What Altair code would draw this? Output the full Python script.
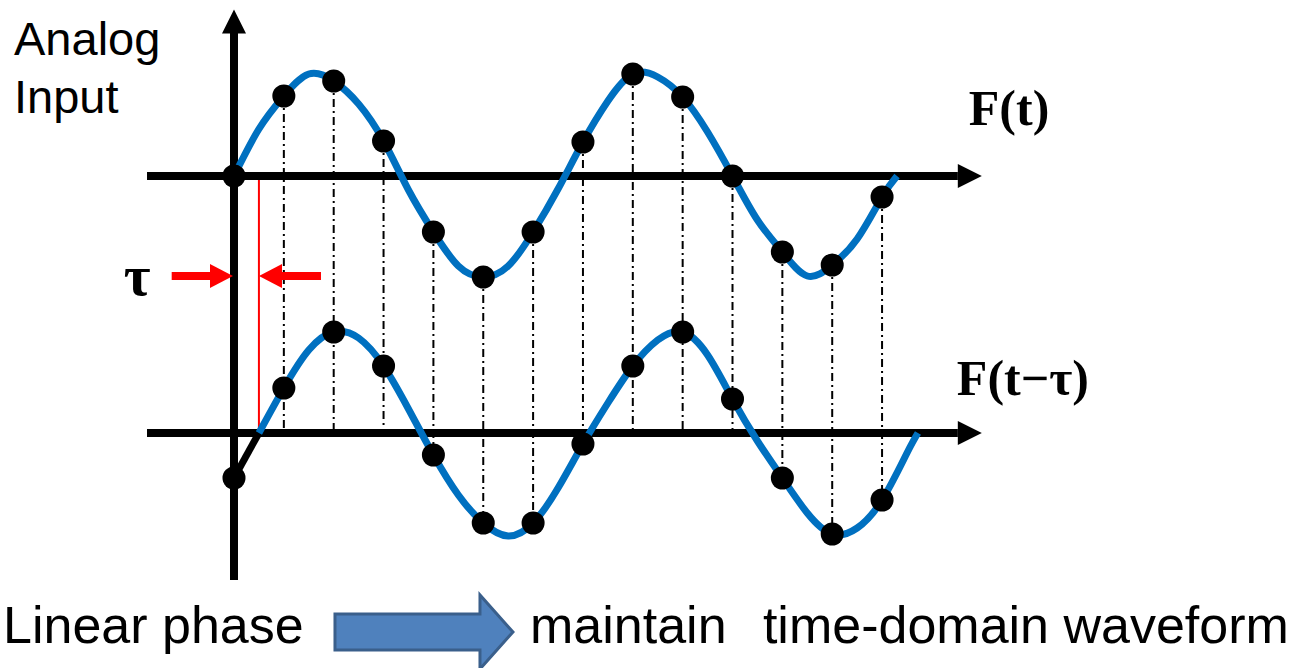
import altair as alt
import pandas as pd

# ---- sampled signal (one x unit = one sampling interval, one y unit = 100 px) ----
sample_t = list(range(14))
top_samples = [0.0, 0.80, 0.95, 0.35, -0.56, -1.01, -0.56, 0.34, 1.02, 0.79, 0.0, -0.76, -0.89, -0.21]
bottom_samples = [-0.45, 0.45, 1.01, 0.67, -0.22, -0.90, -0.90, -0.11, 0.67, 1.01, 0.34, -0.45, -1.01, -0.67]

# continuous waveform F(t)
top_curve_t = [0, 0.5, 1, 1.5, 2, 2.5, 3, 3.5, 4, 4.5, 5, 5.5, 6, 6.5, 7, 7.5, 8, 8.5, 9, 9.5,
               10, 10.5, 11, 11.5, 12, 12.5, 13, 13.3]
top_curve_v = [0.0, 0.47, 0.80, 1.02, 0.95, 0.72, 0.35, -0.14, -0.56, -0.90, -1.01, -0.90, -0.56,
               -0.13, 0.34, 0.75, 1.02, 0.99, 0.79, 0.44, 0.0, -0.44, -0.76, -1.0, -0.89, -0.63,
               -0.21, 0.0]

# delayed waveform F(t - tau)
bottom_curve_t = [0.5, 1, 1.5, 2, 2.5, 3, 3.5, 4, 4.5, 5, 5.5, 6, 6.5, 7, 7.5, 8, 8.5, 9, 9.5,
                  10, 10.5, 11, 11.5, 12, 12.5, 13, 13.5, 13.72]
bottom_curve_v = [0.0, 0.45, 0.83, 1.01, 0.95, 0.67, 0.24, -0.22, -0.62, -0.90, -1.03, -0.90,
                  -0.55, -0.11, 0.30, 0.67, 0.93, 1.01, 0.78, 0.34, -0.08, -0.45, -0.80, -1.01,
                  -0.95, -0.67, -0.20, 0.0]

TAU = 0.5            # delay, in sampling intervals
BASE_LOW = -2.57     # baseline of the delayed trace

# ---- coordinate frame ----
XS = alt.Scale(domain=[-4.694, 21.444], nice=False, zero=False)
YS = alt.Scale(domain=[-4.92, 1.76], nice=False, zero=False)


def X(f):
    return alt.X(f"{f}:Q", scale=XS, axis=None)


def Y(f):
    return alt.Y(f"{f}:Q", scale=YS, axis=None)


samples = pd.DataFrame({"t": sample_t, "top": top_samples, "bot": bottom_samples})
samples["bot_y"] = samples["bot"] + BASE_LOW
samples["drop_to"] = samples["bot_y"].clip(upper=BASE_LOW)

top_curve = pd.DataFrame({"t": top_curve_t, "v": top_curve_v})
bot_curve = pd.DataFrame({"t": bottom_curve_t, "v": bottom_curve_v})
bot_curve["v"] = bot_curve["v"] + BASE_LOW

BLUE = "#0070C0"
RED = "#FF0000"

# dash-dot sampling lines
drops = alt.Chart(samples[samples.t > 0]).mark_rule(
    color="black", strokeWidth=2, strokeDash=[8, 4, 2, 4]
).encode(x=X("t"), y=Y("top"), y2="drop_to:Q")

# delay marker
tau_line = alt.Chart(pd.DataFrame({"x": [TAU], "y": [0.0], "y2": [BASE_LOW]})).mark_rule(
    color=RED, strokeWidth=2
).encode(x=X("x"), y=Y("y"), y2="y2:Q")

# axes
h_axes = alt.Chart(pd.DataFrame({"y": [0.0, BASE_LOW], "x": [-1.745, -1.745], "x2": [14.52, 14.52]})).mark_rule(
    color="black", strokeWidth=8
).encode(y=Y("y"), x=X("x"), x2="x2:Q")
v_axis = alt.Chart(pd.DataFrame({"x": [0.0], "y": [-4.04], "y2": [1.43]})).mark_rule(
    color="black", strokeWidth=8
).encode(x=X("x"), y=Y("y"), y2="y2:Q")

HEAD_RIGHT = "M -12 -12 L 12 0 L -12 12 Z"
HEAD_UP = "M -12 12 L 0 -12 L 12 12 Z"
RED_RIGHT = "M -11.5 -12 L 11.5 0 L -11.5 12 Z"
RED_LEFT = "M 11.5 -12 L -11.5 0 L 11.5 12 Z"
BIG_ARROW = "M -89 -18 L 56 -18 L 56 -37 L 89 0 L 56 37 L 56 18 L -89 18 Z"

h_heads = alt.Chart(pd.DataFrame({"x": [14.76, 14.76], "y": [0.0, BASE_LOW]})).mark_point(
    shape=HEAD_RIGHT, size=4, filled=True, color="black", opacity=1
).encode(x=X("x"), y=Y("y"))
v_head = alt.Chart(pd.DataFrame({"x": [0.0], "y": [1.545]})).mark_point(
    shape=HEAD_UP, size=4, filled=True, color="black", opacity=1
).encode(x=X("x"), y=Y("y"))

# tau arrows
red_shafts = alt.Chart(pd.DataFrame({"x": [-1.25, 0.92], "x2": [-0.44, 1.745], "y": [-1.0, -1.0]})).mark_rule(
    color=RED, strokeWidth=8
).encode(x=X("x"), x2="x2:Q", y=Y("y"))
red_head_r = alt.Chart(pd.DataFrame({"x": [-0.251], "y": [-1.0]})).mark_point(
    shape=RED_RIGHT, size=4, filled=True, color=RED, opacity=1
).encode(x=X("x"), y=Y("y"))
red_head_l = alt.Chart(pd.DataFrame({"x": [0.732], "y": [-1.0]})).mark_point(
    shape=RED_LEFT, size=4, filled=True, color=RED, opacity=1
).encode(x=X("x"), y=Y("y"))

# leading segment of the delayed trace (before the delay elapses)
lead = alt.Chart(pd.DataFrame({"t": [0.0, TAU], "v": [bottom_samples[0] + BASE_LOW, BASE_LOW]})).mark_line(
    color="black", strokeWidth=7
).encode(x=X("t"), y=Y("v"))

curve_top = alt.Chart(top_curve).mark_line(
    color=BLUE, strokeWidth=7, interpolate="natural"
).encode(x=X("t"), y=Y("v"))
curve_bot = alt.Chart(bot_curve).mark_line(
    color=BLUE, strokeWidth=7, interpolate="natural"
).encode(x=X("t"), y=Y("v"))

dots_top = alt.Chart(samples).mark_circle(size=530, color="black", opacity=1).encode(x=X("t"), y=Y("top"))
dots_bot = alt.Chart(samples).mark_circle(size=530, color="black", opacity=1).encode(x=X("t"), y=Y("bot_y"))

# labels
sans_labels = alt.Chart(pd.DataFrame({"x": [-4.413, -4.413], "y": [1.21, 0.63], "text": ["Analog", "Input"]})).mark_text(
    font="Liberation Sans", fontSize=47, align="left", baseline="alphabetic", color="black"
).encode(x=X("x"), y=Y("y"), text="text:N")

serif_labels = alt.Chart(pd.DataFrame({"x": [14.74, 14.50], "y": [0.51, -2.19], "text": ["F(t)", "F(t\u2212\u03c4)"]})).mark_text(
    font="Liberation Serif", fontSize=50, fontWeight="bold", align="left", baseline="alphabetic", color="black"
).encode(x=X("x"), y=Y("y"), text="text:N")

tau_label = alt.Chart(pd.DataFrame({"x": [-1.946], "y": [-1.19], "text": ["\u03c4"]})).mark_text(
    font="Liberation Serif", fontSize=58, fontWeight="bold", align="center", baseline="alphabetic", color="black"
).encode(x=X("x"), y=Y("y"), text="text:N")

caption = alt.Chart(pd.DataFrame({
    "x": [-4.634, 5.938, 10.61],
    "y": [-4.67, -4.67, -4.67],
    "text": ["Linear phase", "maintain", "time-domain waveform"],
})).mark_text(
    font="Liberation Sans", fontSize=52, align="left", baseline="alphabetic", color="black"
).encode(x=X("x"), y=Y("y"), text="text:N")

big_arrow = alt.Chart(pd.DataFrame({"x": [3.811], "y": [-4.56]})).mark_point(
    shape=BIG_ARROW, size=4, fill="#4F81BD", fillOpacity=1, stroke="#3A5F8B", strokeWidth=3, opacity=1
).encode(x=X("x"), y=Y("y"))

chart = alt.layer(
    drops, tau_line, h_axes, v_axis, h_heads, v_head, red_shafts, red_head_r, red_head_l,
    lead, curve_top, curve_bot, dots_top, dots_bot,
    sans_labels, serif_labels, tau_label, caption, big_arrow,
).properties(
    width=1303, height=668, padding=0, autosize=alt.AutoSizeParams(type="none"),
    background="white",
).configure_view(stroke=None)

chart.save("out.html", embed_options={"renderer": "svg", "actions": False})
